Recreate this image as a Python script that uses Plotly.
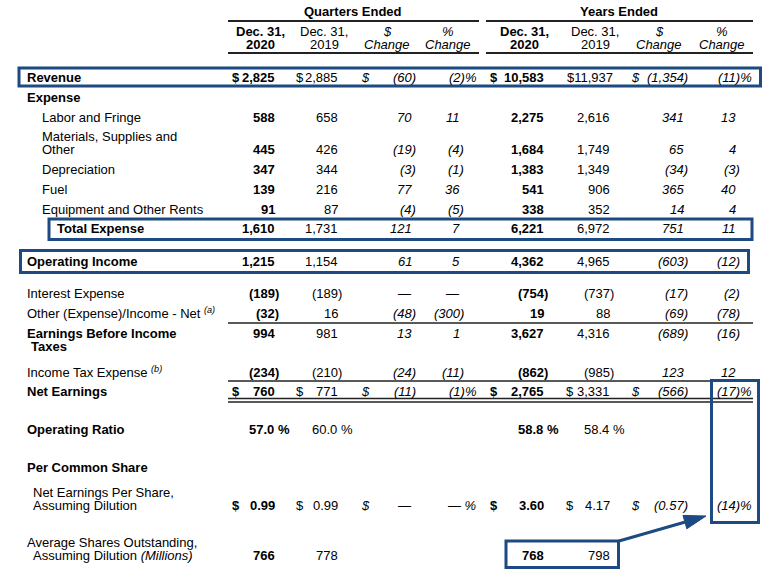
import plotly.graph_objects as go

# Income statement rows (quarters and years ended Dec. 31)
row_labels = [
    ["Revenue"],
    ["Expense"],
    ["Labor and Fringe"],
    ["Materials, Supplies and", "Other"],
    ["Depreciation"],
    ["Fuel"],
    ["Equipment and Other Rents"],
    ["Total Expense"],
    ["Operating Income"],
    ["Interest Expense"],
    ["Other (Expense)/Income - Net <sup><i>(a)</i></sup>"],
    ["Earnings Before Income", "Taxes"],
    ["Income Tax Expense <sup><i>(b)</i></sup>"],
    ["Net Earnings"],
    ["Operating Ratio"],
    ["Per Common Share"],
    ["Net Earnings Per Share,", "Assuming Dilution"],
    ["Average Shares Outstanding,", "Assuming Dilution <i>(Millions)</i>"],
]

q_2020 = [2825, None, 588, 445, 347, 139, 91, 1610, 1215, -189, -32, 994, -234, 760, 57.0, None, 0.99, 766]
q_2019 = [2885, None, 658, 426, 344, 216, 87, 1731, 1154, -189, 16, 981, -210, 771, 60.0, None, 0.99, 778]
q_chg = [-60, None, 70, -19, -3, 77, -4, 121, 61, 0, -48, 13, -24, -11, None, None, 0, None]
q_pct = [-2, None, 11, -4, -1, 36, -5, 7, 5, 0, -300, 1, -11, -1, None, None, 0, None]
y_2020 = [10583, None, 2275, 1684, 1383, 541, 338, 6221, 4362, -754, 19, 3627, -862, 2765, 58.8, None, 3.60, 768]
y_2019 = [11937, None, 2616, 1749, 1349, 906, 352, 6972, 4965, -737, 88, 4316, -985, 3331, 58.4, None, 4.17, 798]
y_chg = [-1354, None, 341, 65, -34, 365, 14, 751, -603, -17, -69, -689, 123, -566, None, None, -0.57, None]
y_pct = [-11, None, 13, 4, -3, 40, 4, 11, -12, -2, -78, -16, 12, -17, None, None, -14, None]

group_titles = ["Quarters Ended", "Years Ended"]
col_head_top = ["Dec. 31,", "Dec. 31,", "$", "%", "Dec. 31,", "Dec. 31,", "$", "%"]
col_head_bot = ["2020", "2019", "Change", "Change", "2020", "2019", "Change", "Change"]

# ---- layout / style (not data) ----
FONT = "Arial, Liberation Sans, sans-serif"
BLUE = "#1d4a82"
SIZE = 13

label_x = [27, 27, 42, 42, 42, 42, 42, 57, 27, 27, 27, 27, 27, 27, 27, 27, 33, 27]
label_x2 = {3: 42, 11: 31, 16: 33, 17: 33}
label_bold = [1, 1, 0, 0, 0, 0, 0, 1, 1, 0, 0, 1, 0, 1, 1, 1, 0, 0]
label_y = [77, 97, 117, 136, 169, 189, 209, 228, 261, 293, 313, 333, 372, 391, 429, 467, 492, 542]
line_gap = 13.5
value_y = [77, 97, 117, 149, 169, 189, 209, 228, 261, 293, 313, 333, 372, 391, 429, 467, 505, 555]
dollar_rows = {0, 13, 16}
row_dec = [0] * 14 + [1, 0, 2, 0]

columns = [q_2020, q_2019, q_chg, q_pct, y_2020, y_2019, y_chg, y_pct]
col_right = [275, 338, 412, 460, 544, 610, 684, 736]
col_center = [260, 324, 387, 448, 524, 595, 659, 722]
col_dollar = [232, 296, 361, None, 490, 566, 631, None]
col_bold = [1, 0, 0, 0, 1, 0, 0, 0]
col_ital = [0, 0, 1, 1, 0, 0, 1, 1]
col_is_pct = [0, 0, 0, 1, 0, 0, 0, 1]

char_w = {",": 3.6, ".": 3.6, "(": 4.3, ")": 4.3, "—": 13.0}

anns = []
shapes = []


def put(x, y, s, anchor="left", bold=False, italic=False, size=SIZE):
    if bold:
        s = "<b>" + s + "</b>"
    if italic:
        s = "<i>" + s + "</i>"
    anns.append(dict(x=x, y=y, xref="x", yref="y", text=s, showarrow=False,
                     xanchor=anchor, yanchor="middle", borderpad=0, borderwidth=0,
                     font=dict(family=FONT, size=size, color="black")))


def hline(x0, x1, y, w=1.5, color="#222222"):
    shapes.append(dict(type="line", xref="x", yref="y", x0=x0, x1=x1, y0=y, y1=y,
                       line=dict(color=color, width=w)))


def box(x0, y0, x1, y1):
    shapes.append(dict(type="rect", xref="x", yref="y", x0=x0, x1=x1, y0=y0, y1=y1,
                       line=dict(color=BLUE, width=3), fillcolor="rgba(0,0,0,0)"))


def fmt(v, dec):
    if v == 0:
        return "—"
    s = f"{abs(v):,.{dec}f}"
    return f"({s})" if v < 0 else s


def width(s):
    return sum(char_w.get(ch, 7.2) for ch in s)


# group titles and header lines
put(353, 11, group_titles[0], "center", bold=True)
put(619, 11, group_titles[1], "center", bold=True)
for y in (21, 53):
    hline(228, 479, y, 2)
    hline(486, 753, y, 2)
for c in range(8):
    put(col_center[c], 31, col_head_top[c], "center", bold=col_bold[c], italic=col_ital[c])
    put(col_center[c], 44, col_head_bot[c], "center", bold=col_bold[c], italic=col_ital[c])

# row labels
for i, lines in enumerate(row_labels):
    put(label_x[i], label_y[i], lines[0], bold=label_bold[i])
    if len(lines) > 1:
        put(label_x2[i], label_y[i] + line_gap, lines[1], bold=label_bold[i])

# values
for c, col in enumerate(columns):
    for i, v in enumerate(col):
        if v is None:
            continue
        dec = 0 if col_is_pct[c] else row_dec[i]
        s = fmt(v, dec)
        x = col_right[c]
        if s.endswith(")"):
            x += 4.3
        needs_dollar = i in dollar_rows and col_dollar[c] is not None
        if needs_dollar and x - width(s) < col_dollar[c] + 9:
            # number too wide: dollar sign sits right against it
            x = max(x, col_dollar[c] + 7.2 + width(s))
            s = "$" + s
            needs_dollar = False
        if i == 14:
            s += " %"
            x += 15
        elif col_is_pct[c] and i in dollar_rows:
            if s == "—":
                s += " %"
                x += 15.5
            else:
                s += "%"
                x += 11.6
        put(x, value_y[i], s, "right", bold=col_bold[c], italic=col_ital[c])
        if needs_dollar:
            put(col_dollar[c], value_y[i], "$", bold=col_bold[c], italic=col_ital[c])

# rules
hline(228, 753, 323)
hline(228, 753, 381)
hline(228, 753, 398.5)
hline(228, 753, 402)

# highlight boxes
box(19, 68, 760.5, 86)
box(49, 219, 752, 239.5)
box(20.5, 250.5, 748.5, 272.5)
box(711.5, 380.5, 758.5, 522.5)
box(506, 541, 618.5, 567.5)

# arrow from the share-count box to the EPS change box
shapes.append(dict(type="line", xref="x", yref="y", x0=619, y0=541, x1=687, y1=521.5,
                   line=dict(color=BLUE, width=3)))
shapes.append(dict(type="path", xref="x", yref="y",
                   path="M 706 516 L 686.8 528.8 L 683.0 515.4 Z",
                   fillcolor=BLUE, line=dict(color=BLUE, width=1)))

fig = go.Figure()
fig.update_layout(
    width=773, height=574,
    margin=dict(l=0, r=0, t=0, b=0),
    paper_bgcolor="white", plot_bgcolor="white",
    xaxis=dict(range=[0, 773], visible=False, fixedrange=True),
    yaxis=dict(range=[574, 0], visible=False, fixedrange=True),
    showlegend=False,
    annotations=anns,
    shapes=shapes,
)
# drop the page's default body margin so the figure fills the window
fig.write_html("out.html", config={"displayModeBar": False},
               post_script="document.body.style.margin='0';")
